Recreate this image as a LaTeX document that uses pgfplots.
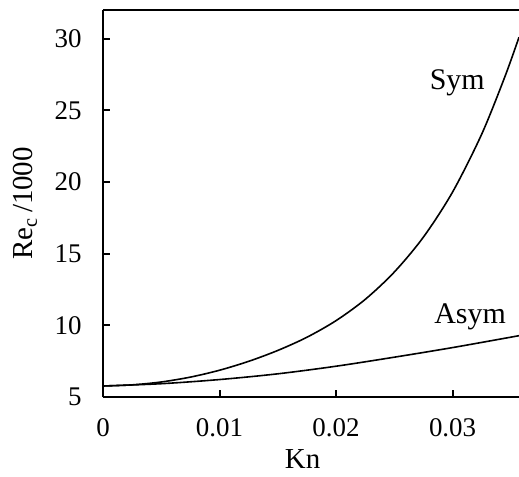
\documentclass[border=0pt]{standalone}
\usepackage{fontspec}
\setmainfont{Liberation Serif}
\usepackage{pgfplots}
\pgfplotsset{compat=1.18}

\begin{document}
\fontsize{13.5}{16}\selectfont
\begin{tikzpicture}
	\begin{axis}[
		scale only axis,
		width=208.4pt,
		height=193.9pt,
		xmin=0, xmax=0.0357,
		ymin=5, ymax=32,
		axis x line*=bottom,
		axis y line*=left,
		axis line style={line width=1pt},
		tick align=inside,
		major tick length=3.5pt,
		tick style={line width=1pt, black},
		scaled x ticks=false,
		xtick={0,0.01,0.02,0.03},
		xticklabels={0,0.01,0.02,0.03},
		ytick={5,10,15,20,25,30},
		xticklabel style={yshift=-6pt},
		yticklabel style={xshift=-6pt},
		/pgf/number format/assume math mode=true,
		xlabel={Kn},
		ylabel={Re\textsubscript{c}\,/1000},
		label style={font=\fontsize{14.5}{17}\selectfont},
		xlabel style={at={(axis description cs:0.48,-0.16)}, anchor=center},
		ylabel style={at={(axis description cs:-0.187,0.5)}, anchor=center},
		clip=false,
	]
	% top border
	\draw[line width=1pt] (rel axis cs:0,1) -- (rel axis cs:1,1);

	% Sym
	\addplot[black, line width=0.8pt, smooth] coordinates {
		(0, 5.77)
		(0.0025, 5.85)
		(0.005, 6.05)
		(0.0075, 6.39)
		(0.01, 6.87)
		(0.0125, 7.49)
		(0.015, 8.25)
		(0.0175, 9.17)
		(0.02, 10.33)
		(0.0225, 11.81)
		(0.025, 13.72)
		(0.0275, 16.16)
		(0.03, 19.30)
		(0.0325, 23.34)
		(0.0345, 27.37)
		(0.0357, 30.1)
	};
	% Asym
	\addplot[black, line width=0.8pt, smooth] coordinates {
		(0, 5.77)
		(0.005, 5.93)
		(0.01, 6.22)
		(0.015, 6.62)
		(0.02, 7.15)
		(0.025, 7.78)
		(0.03, 8.45)
		(0.0357, 9.28)
	};
	\node[font=\fontsize{15}{17}\selectfont] at (axis cs:0.0304,26.9) {Sym};
	\node[font=\fontsize{15}{17}\selectfont] at (axis cs:0.0315,10.59) {Asym};
	\end{axis}
	\pgfresetboundingbox
	\path ([xshift=-51.6pt,yshift=-40pt]current axis.south west) rectangle ([yshift=5pt]current axis.north east);
\end{tikzpicture}
\end{document}
